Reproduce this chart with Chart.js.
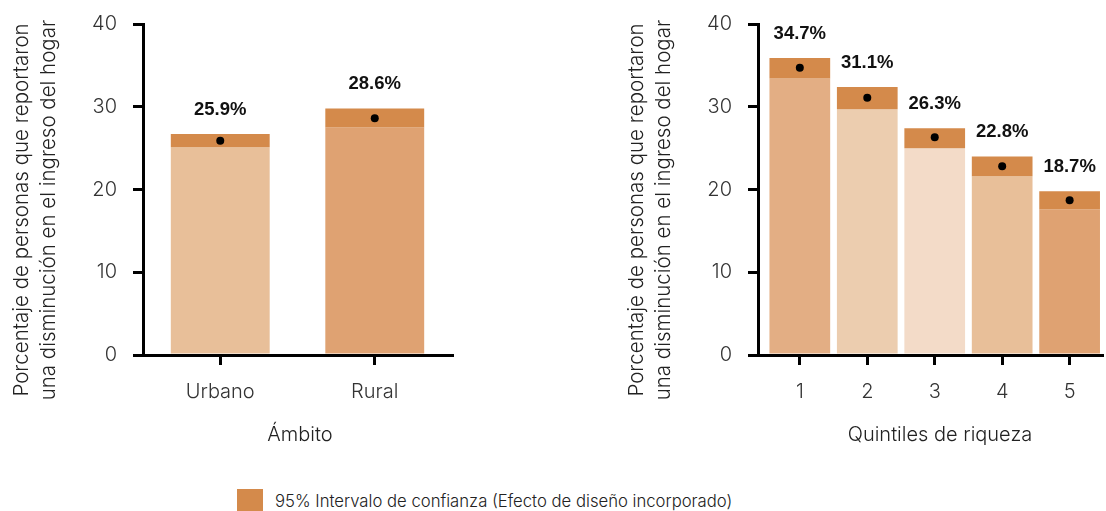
<!DOCTYPE html>
<html>
<head>
<meta charset="utf-8">
<script src="https://cdn.jsdelivr.net/npm/chart.js"></script>
<style>
  body { margin: 0; background: #fff; width: 1106px; height: 511px; overflow: hidden; position: relative; font-family: Inter, 'Liberation Sans', sans-serif; }
  canvas { position: absolute; top: 0; }
  #c1 { left: 0; }
  #c2 { left: 600px; }
  .legend { position: absolute; left: 237px; top: 489px; height: 24px; display: flex; align-items: center; }
  .legend span.box { width: 26px; height: 24px; background: #D48A4B; display: inline-block; margin-right: 12px; }
  .legend span.txt { font-size: 16.7px; font-weight: 300; color: #222; }
</style>
</head>
<body>
<canvas id="c1" width="460" height="455"></canvas>
<canvas id="c2" width="506" height="455"></canvas>
<div class="legend"><span class="box"></span><span class="txt">95% Intervalo de confianza (Efecto de diseño incorporado)</span></div>
<script>
// data
const ambitoLabels = ['Urbano', 'Rural'];
const ambitoValues = [25.9, 28.6];
const ambitoLower = [25.1, 27.5];
const ambitoUpper = [26.7, 29.8];

const quintilLabels = ['1', '2', '3', '4', '5'];
const quintilValues = [34.7, 31.1, 26.3, 22.8, 18.7];
const quintilLower = [33.4, 29.7, 25.0, 21.6, 17.6];
const quintilUpper = [35.9, 32.4, 27.4, 24.0, 19.8];

const yTicks = [0, 10, 20, 30, 40];
const yTitle = ['Porcentaje de personas que reportaron', 'una disminución en el ingreso del hogar'];

const ciColor = '#D48A4B';
const ambitoColors = ['#E8BF99', '#DFA272'];
const quintilColors = ['#E3AE84', '#ECCDAF', '#F3DBC8', '#E8BF99', '#DFA272'];

Chart.defaults.font.family = "Inter, 'Liberation Sans', sans-serif";
Chart.defaults.color = '#333';

const FONT = { size: 20, weight: 300 };

// value labels above the CI bars + axis titles
const extras = {
  id: 'extras',
  afterDraw(chart, args, opts) {
    const ctx = chart.ctx;
    const area = chart.chartArea;
    ctx.save();
    const meta = chart.getDatasetMeta(1);
    ctx.font = "bold 18.5px 'Liberation Sans', Arial, sans-serif";
    ctx.fillStyle = '#111';
    ctx.textAlign = 'center';
    ctx.textBaseline = 'middle';
    meta.data.forEach((el, i) => {
      const top = Math.min(el.y, el.base);
      ctx.fillText(opts.values[i].toFixed(1) + '%', el.x, top - 24);
    });

    ctx.font = "300 20px Inter, 'Liberation Sans', sans-serif";
    ctx.fillStyle = '#222';
    ctx.textBaseline = 'alphabetic';
    ctx.fillText(opts.xTitle, opts.xTitleX, 441);

    ctx.font = "300 20.5px Inter, 'Liberation Sans', sans-serif";
    ctx.translate(area.left - 115, 210);
    ctx.rotate(-Math.PI / 2);
    ctx.fillText(yTitle[0], 0, 0);
    ctx.fillText(yTitle[1], 0, 27);
    ctx.restore();
  }
};

const yScale = (width) => ({
  min: 0,
  max: 40,
  z: 1,
  afterFit: s => { s.width = width; s.paddingTop = 0; s.paddingBottom = 0; },
  afterBuildTicks: axis => { axis.ticks = yTicks.map(v => ({ value: v })); },
  border: { color: '#000', width: 3 },
  grid: { drawOnChartArea: false, drawTicks: true, tickLength: 10, color: '#000', lineWidth: 3 },
  ticks: { font: FONT, color: '#333', padding: 16 }
});

const xGrid = { drawOnChartArea: false, drawTicks: true, tickLength: 10, color: '#000', lineWidth: 3, offset: false };

new Chart(document.getElementById('c1'), {
  type: 'bar',
  data: {
    labels: ambitoLabels,
    datasets: [
      {
        data: ambitoLower,
        backgroundColor: ambitoColors,
        grouped: false,
        categoryPercentage: 1,
        barPercentage: 0.64,
        order: 3
      },
      {
        data: ambitoLower.map((lo, i) => [lo, ambitoUpper[i]]),
        backgroundColor: ciColor,
        grouped: false,
        categoryPercentage: 1,
        barPercentage: 0.64,
        order: 2
      },
      {
        type: 'line',
        data: ambitoValues,
        showLine: false,
        pointRadius: 4,
        pointBackgroundColor: '#000',
        pointBorderWidth: 0,
        order: 1
      }
    ]
  },
  options: {
    responsive: false,
    animation: false,
    layout: { padding: { top: 24, right: 8, left: 0, bottom: 0 } },
    plugins: {
      legend: { display: false },
      tooltip: { enabled: false },
      extras: { values: ambitoValues, xTitle: 'Ámbito', xTitleX: 300 }
    },
    scales: {
      x: {
        z: 1,
        afterFit: s => { s.height = 100; },
        border: { color: '#000', width: 3 },
        grid: xGrid,
        ticks: { font: FONT, color: '#333', padding: 15 }
      },
      y: yScale(143)
    }
  },
  plugins: [extras]
});

new Chart(document.getElementById('c2'), {
  type: 'bar',
  data: {
    datasets: [
      {
        data: quintilLower.map((lo, i) => ({ x: i + 1, y: lo })),
        backgroundColor: quintilColors,
        grouped: false,
        categoryPercentage: 1,
        barPercentage: 0.9,
        order: 3
      },
      {
        data: quintilLower.map((lo, i) => ({ x: i + 1, y: [lo, quintilUpper[i]] })),
        backgroundColor: ciColor,
        grouped: false,
        categoryPercentage: 1,
        barPercentage: 0.9,
        order: 2
      },
      {
        type: 'line',
        data: quintilValues.map((v, i) => ({ x: i + 1, y: v })),
        showLine: false,
        pointRadius: 4,
        pointBackgroundColor: '#000',
        pointBorderWidth: 0,
        order: 1
      }
    ]
  },
  options: {
    responsive: false,
    animation: false,
    layout: { padding: { top: 24, right: 0, left: 0, bottom: 0 } },
    plugins: {
      legend: { display: false },
      tooltip: { enabled: false },
      extras: { values: quintilValues, xTitle: 'Quintiles de riqueza', xTitleX: 340 }
    },
    scales: {
      x: {
        type: 'linear',
        offset: false,
        min: 0.38,
        max: 5.48,
        z: 1,
        afterFit: s => { s.height = 100; },
        afterBuildTicks: axis => { axis.ticks = quintilLabels.map((q, i) => ({ value: i + 1 })); },
        border: { color: '#000', width: 3 },
        grid: xGrid,
        ticks: { font: FONT, color: '#333', padding: 15, callback: v => quintilLabels[v - 1] }
      },
      y: yScale(158)
    }
  },
  plugins: [extras]
});
</script>
</body>
</html>
